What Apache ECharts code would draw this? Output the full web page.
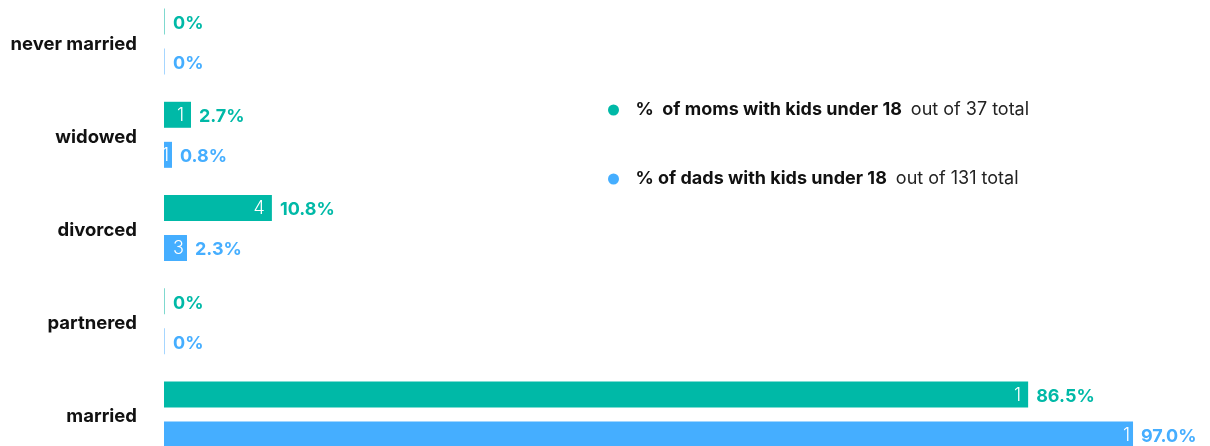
<!DOCTYPE html>
<html>
<head>
<meta charset="utf-8">
<script src="https://cdn.jsdelivr.net/npm/echarts@6/dist/echarts.min.js"></script>
<style>
  html, body { margin: 0; padding: 0; background: #fff; }
  #chart { width: 1210px; height: 446px; }
</style>
</head>
<body>
<div id="chart"></div>
<script>
// Marital status of parents with kids under 18
const categories = ['never married', 'widowed', 'divorced', 'partnered', 'married'];
const momsPct = [0, 2.7, 10.8, 0, 86.5];
const dadsPct = [0, 0.8, 2.3, 0, 97.0];
// respondent counts printed inside each bar
const momsCountText = [0, 1, 4, 0, 1];
const dadsCountText = [0, 1, 3, 0, 1];
const seriesNames = ['moms', 'dads'];
const legendBold = ['%  of moms with kids under 18', '% of dads with kids under 18'];
const legendNote = ['out of 37 total', 'out of 131 total'];

const FONT = 'Inter, "Noto Sans", sans-serif';
const TEAL = '#00b9a7';
const BLUE = '#45aeff';
const TEAL_FAINT = '#7fd9cf';
const BLUE_FAINT = '#a6d6ff';

// empty categories are drawn as a hairline in a paler tint
function pctData(values, faint) {
  return values.map(v => v === 0 ? { value: v, itemStyle: { color: faint } } : v);
}
function pctLabel(p) {
  return p.value === 0 ? '0%' : p.value.toFixed(1) + '%';
}
function countFormatter(counts) {
  return p => counts[p.dataIndex] ? String(counts[p.dataIndex]) : '';
}

const barCommon = {
  type: 'bar',
  barWidth: 26,
  barGap: '54%',
  barMinHeight: 1
};

const yCommon = {
  type: 'category',
  data: categories,
  inverse: true,
  axisLine: { show: false },
  axisTick: { show: false },
  splitLine: { show: false }
};

const chart = echarts.init(document.getElementById('chart'), null, { renderer: 'canvas' });
chart.setOption({
  animation: false,
  grid: { left: 164, right: 47, top: -5, height: 466, outerBoundsMode: 'none', containLabel: false },
  xAxis: { type: 'value', min: 0, max: 100, show: false },
  yAxis: [
    Object.assign({}, yCommon, {
      axisLabel: {
        margin: 27,
        formatter: v => '{c|' + v + '}',
        rich: {
          c: { padding: [5, 0, 0, 0], fontFamily: FONT, fontSize: 18.5, fontWeight: 'bold', color: '#111' }
        }
      }
    }),
    Object.assign({}, yCommon, { show: false })
  ],
  legend: {
    data: seriesNames,
    orient: 'vertical',
    left: 603,
    top: 96,
    icon: 'circle',
    itemWidth: 34,
    itemHeight: 11,
    itemGap: 51,
    selectedMode: false,
    formatter: name => {
      const i = seriesNames.indexOf(name);
      return '{b|' + legendBold[i] + '}{n|' + legendNote[i] + '}';
    },
    textStyle: {
      fontFamily: FONT,
      rich: {
        b: { fontFamily: FONT, fontSize: 18, fontWeight: 'bold', color: '#111', padding: [0, 9, 0, 0] },
        n: { fontFamily: FONT, fontSize: 18, fontWeight: 'normal', color: '#222' }
      }
    }
  },
  series: [
    Object.assign({}, barCommon, {
      name: seriesNames[0],
      yAxisIndex: 0,
      data: pctData(momsPct, TEAL_FAINT),
      itemStyle: { color: TEAL },
      label: { show: true, position: 'right', distance: 8, offset: [0, 2], formatter: pctLabel,
        fontFamily: FONT, fontSize: 18, fontWeight: 'bold', color: TEAL }
    }),
    Object.assign({}, barCommon, {
      name: seriesNames[1],
      yAxisIndex: 0,
      data: pctData(dadsPct, BLUE_FAINT),
      itemStyle: { color: BLUE },
      label: { show: true, position: 'right', distance: 8, offset: [0, 2], formatter: pctLabel,
        fontFamily: FONT, fontSize: 18, fontWeight: 'bold', color: BLUE }
    }),
    // transparent overlays on a twin axis carry the in-bar counts
    Object.assign({}, barCommon, {
      name: 'moms count',
      yAxisIndex: 1,
      silent: true,
      data: momsPct,
      itemStyle: { color: 'rgba(0,0,0,0)' },
      label: { show: true, position: 'insideRight', distance: 7, offset: [0, 1], formatter: countFormatter(momsCountText),
        fontFamily: FONT, fontSize: 18, fontWeight: 300, color: '#fff' }
    }),
    Object.assign({}, barCommon, {
      name: 'dads count',
      yAxisIndex: 1,
      silent: true,
      data: dadsPct,
      itemStyle: { color: 'rgba(0,0,0,0)' },
      label: { show: true, position: 'insideRight', distance: 3, offset: [0, 1], formatter: countFormatter(dadsCountText),
        fontFamily: FONT, fontSize: 18, fontWeight: 300, color: '#fff' }
    })
  ]
});
</script>
</body>
</html>
